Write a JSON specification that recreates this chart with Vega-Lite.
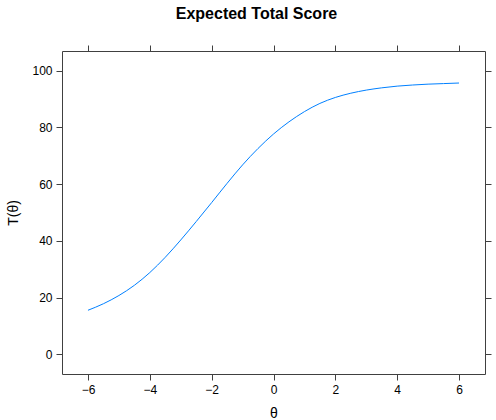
{
  "$schema": "https://vega.github.io/schema/vega-lite/v6.json",
  "width": 423,
  "height": 323,
  "autosize": {"type": "none"},
  "padding": {"left": 62, "top": 51, "right": 11, "bottom": 46},
  "background": "white",
  "config": {
    "view": {"stroke": "#404040", "strokeWidth": 1},
    "font": "Liberation Sans",
    "axis": {"grid": false, "domain": false, "tickColor": "#404040", "tickSize": 6, "labelFont": "Liberation Sans", "labelFontSize": 12, "labelColor": "#000000", "titleFont": "Liberation Sans", "titleFontWeight": "normal", "titleFontSize": 14, "titleColor": "#000000"}
  },
  "title": {"text": "Expected Total Score", "font": "Liberation Sans", "fontSize": 16, "fontWeight": "bold", "color": "#000000", "anchor": "middle", "dx": -17, "offset": 23},
  "data": {"values": [
    {"theta": -6.0, "T": 15.5},
    {"theta": -5.5, "T": 17.8},
    {"theta": -5.0, "T": 20.7},
    {"theta": -4.5, "T": 24.3},
    {"theta": -4.0, "T": 28.8},
    {"theta": -3.5, "T": 34.2},
    {"theta": -3.0, "T": 40.3},
    {"theta": -2.5, "T": 46.8},
    {"theta": -2.0, "T": 53.5},
    {"theta": -1.5, "T": 60.3},
    {"theta": -1.0, "T": 66.8},
    {"theta": -0.5, "T": 72.6},
    {"theta": 0.0, "T": 77.7},
    {"theta": 0.5, "T": 82.0},
    {"theta": 1.0, "T": 85.6},
    {"theta": 1.5, "T": 88.5},
    {"theta": 2.0, "T": 90.6},
    {"theta": 2.5, "T": 92.1},
    {"theta": 3.0, "T": 93.2},
    {"theta": 3.5, "T": 94.0},
    {"theta": 4.0, "T": 94.6},
    {"theta": 4.5, "T": 95.0},
    {"theta": 5.0, "T": 95.3},
    {"theta": 5.5, "T": 95.5},
    {"theta": 6.0, "T": 95.7}
  ]},
  "layer": [
    {
      "mark": {"type": "line", "color": "#0080ff", "strokeWidth": 1, "interpolate": "monotone"},
      "encoding": {
        "x": {"field": "theta", "type": "quantitative", "scale": {"domain": [-6.84, 6.84], "nice": false, "zero": false},
              "axis": {"orient": "bottom", "values": [-6, -4, -2, 0, 2, 4, 6], "title": "θ", "labelPadding": 4, "titleX": 211.5, "titleY": 39, "titleBaseline": "middle", "titleAnchor": "middle"}},
        "y": {"field": "T", "type": "quantitative", "scale": {"domain": [-7, 107], "nice": false, "zero": false},
              "axis": {"orient": "left", "values": [0, 20, 40, 60, 80, 100], "title": "T(θ)", "labelPadding": 4, "titleX": -49, "titleY": 161.5, "titleBaseline": "middle", "titleAnchor": "middle", "titleAngle": -90}}
      }
    },
    {
      "mark": {"type": "line", "opacity": 0},
      "encoding": {
        "x": {"field": "theta", "type": "quantitative", "scale": {"domain": [-6.84, 6.84], "nice": false, "zero": false},
              "axis": {"orient": "top", "values": [-6, -4, -2, 0, 2, 4, 6], "labels": false, "title": null}},
        "y": {"field": "T", "type": "quantitative", "scale": {"domain": [-7, 107], "nice": false, "zero": false},
              "axis": {"orient": "right", "values": [0, 20, 40, 60, 80, 100], "labels": false, "title": null}}
      }
    }
  ],
  "resolve": {"axis": {"x": "independent", "y": "independent"}}
}
